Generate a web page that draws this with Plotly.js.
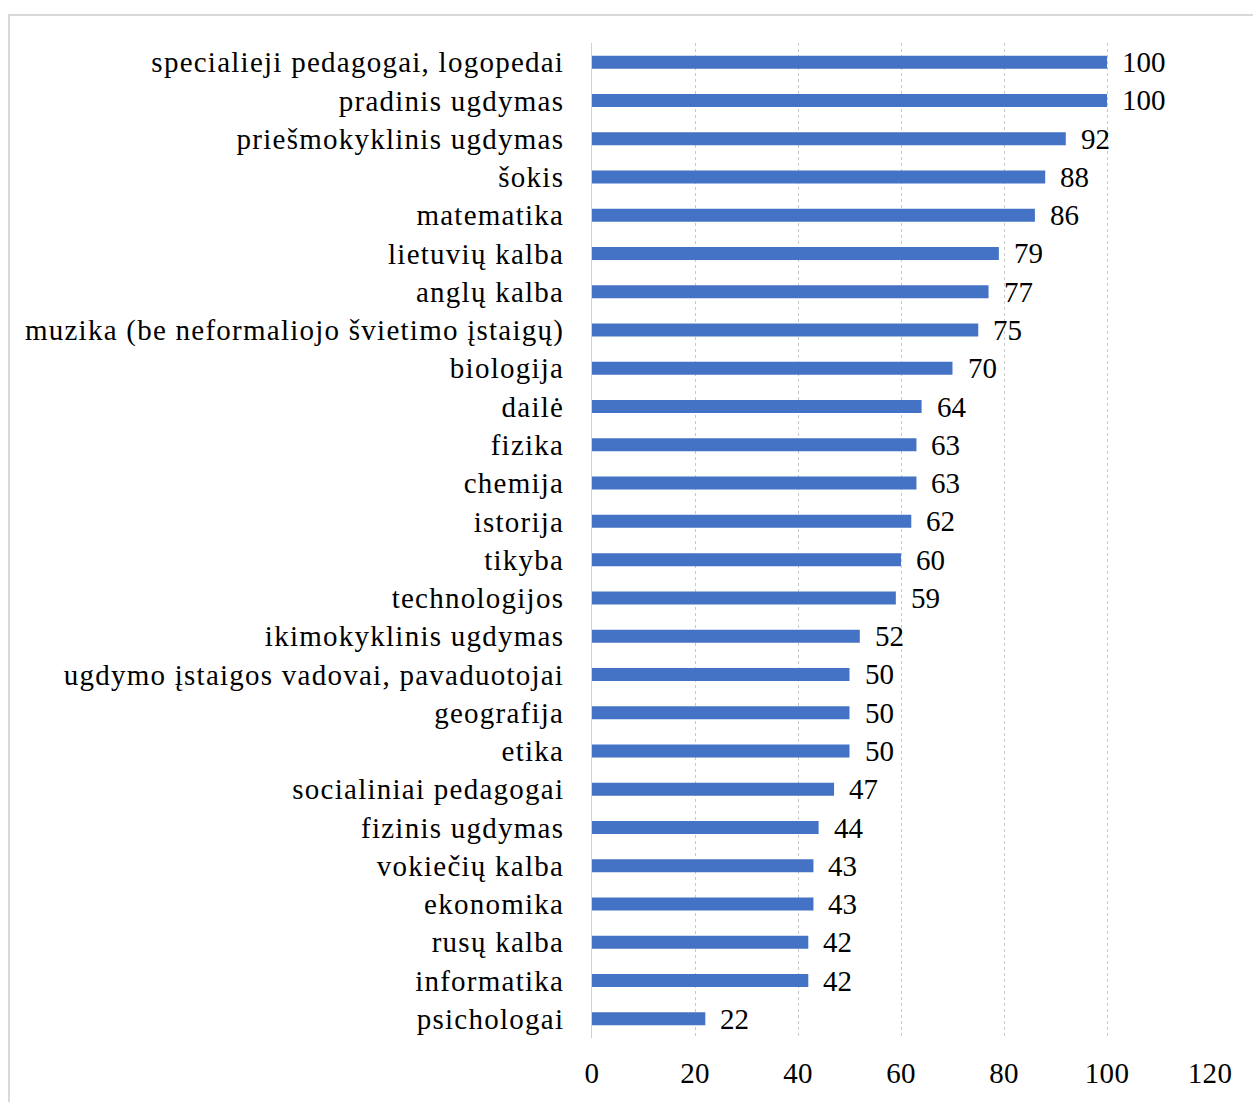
<!DOCTYPE html>
<html>
<head>
<meta charset="utf-8">
<script src="https://cdn.plot.ly/plotly-3.0.1.min.js"></script>
<style>
  html, body { margin: 0; padding: 0; background: #fff; overflow: hidden; }
  #frame { position: absolute; left: 8px; top: 14px; width: 1400px; height: 1200px; border: 2px solid #d9d9d9; box-sizing: border-box; }
  #chart { position: absolute; left: 0; top: 0; width: 1253px; height: 1102px; }
  #chart .ytick text { letter-spacing: 1.25px; }
  #chart .xtick text { letter-spacing: 0.3px; }
</style>
</head>
<body>
<div id="frame"></div>
<div id="chart"></div>
<script>
const categories = [
  "specialieji pedagogai, logopedai",
  "pradinis ugdymas",
  "priešmokyklinis ugdymas",
  "šokis",
  "matematika",
  "lietuvių kalba",
  "anglų kalba",
  "muzika (be neformaliojo švietimo įstaigų)",
  "biologija",
  "dailė",
  "fizika",
  "chemija",
  "istorija",
  "tikyba",
  "technologijos",
  "ikimokyklinis ugdymas",
  "ugdymo įstaigos vadovai, pavaduotojai",
  "geografija",
  "etika",
  "socialiniai pedagogai",
  "fizinis ugdymas",
  "vokiečių kalba",
  "ekonomika",
  "rusų kalba",
  "informatika",
  "psichologai"
];
const values = [100, 100, 92, 88, 86, 79, 77, 75, 70, 64, 63, 63, 62, 60, 59, 52, 50, 50, 50, 47, 44, 43, 43, 42, 42, 22];
const xTicks = [0, 20, 40, 60, 80, 100, 120];

const fontFamily = '"Liberation Serif", "Times New Roman", serif';

const trace = {
  type: 'bar',
  orientation: 'h',
  x: values,
  y: categories,
  width: 0.34,
  marker: { color: '#4472C4', line: { color: '#4472C4', width: 0 } },
  hoverinfo: 'skip'
};

const annotations = values.map((v, i) => ({
  x: v, y: categories[i], xref: 'x', yref: 'y',
  text: String(v), showarrow: false,
  xanchor: 'left', yanchor: 'middle', xshift: 13, yshift: 0,
  font: { family: fontFamily, size: 29, color: '#000' }
}));

const layout = {
  width: 1253, height: 1102,
  margin: { l: 592, r: 43, t: 43, b: 64 },
  paper_bgcolor: 'rgba(0,0,0,0)',
  plot_bgcolor: 'rgba(0,0,0,0)',
  showlegend: false,
  bargap: 0.66,
  xaxis: {
    range: [0, 120],
    tickvals: xTicks,
    ticktext: xTicks.map(String),
    showgrid: true, gridcolor: '#c8c8c8', griddash: 'dot', gridwidth: 1,
    zeroline: false, showline: false, ticks: '',
    ticklabelstandoff: 15,
    tickfont: { family: fontFamily, size: 29, color: '#000' }
  },
  yaxis: {
    type: 'category',
    categoryorder: 'array', categoryarray: categories,
    autorange: 'reversed',
    showgrid: false, zeroline: false,
    showline: true, linecolor: '#d0d0d0', linewidth: 1,
    ticks: '', ticklabelstandoff: 21,
    tickfont: { family: fontFamily, size: 29, color: '#000' }
  },
  annotations: annotations
};

Plotly.newPlot('chart', [trace], layout, { staticPlot: true, displayModeBar: false });
</script>
</body>
</html>
